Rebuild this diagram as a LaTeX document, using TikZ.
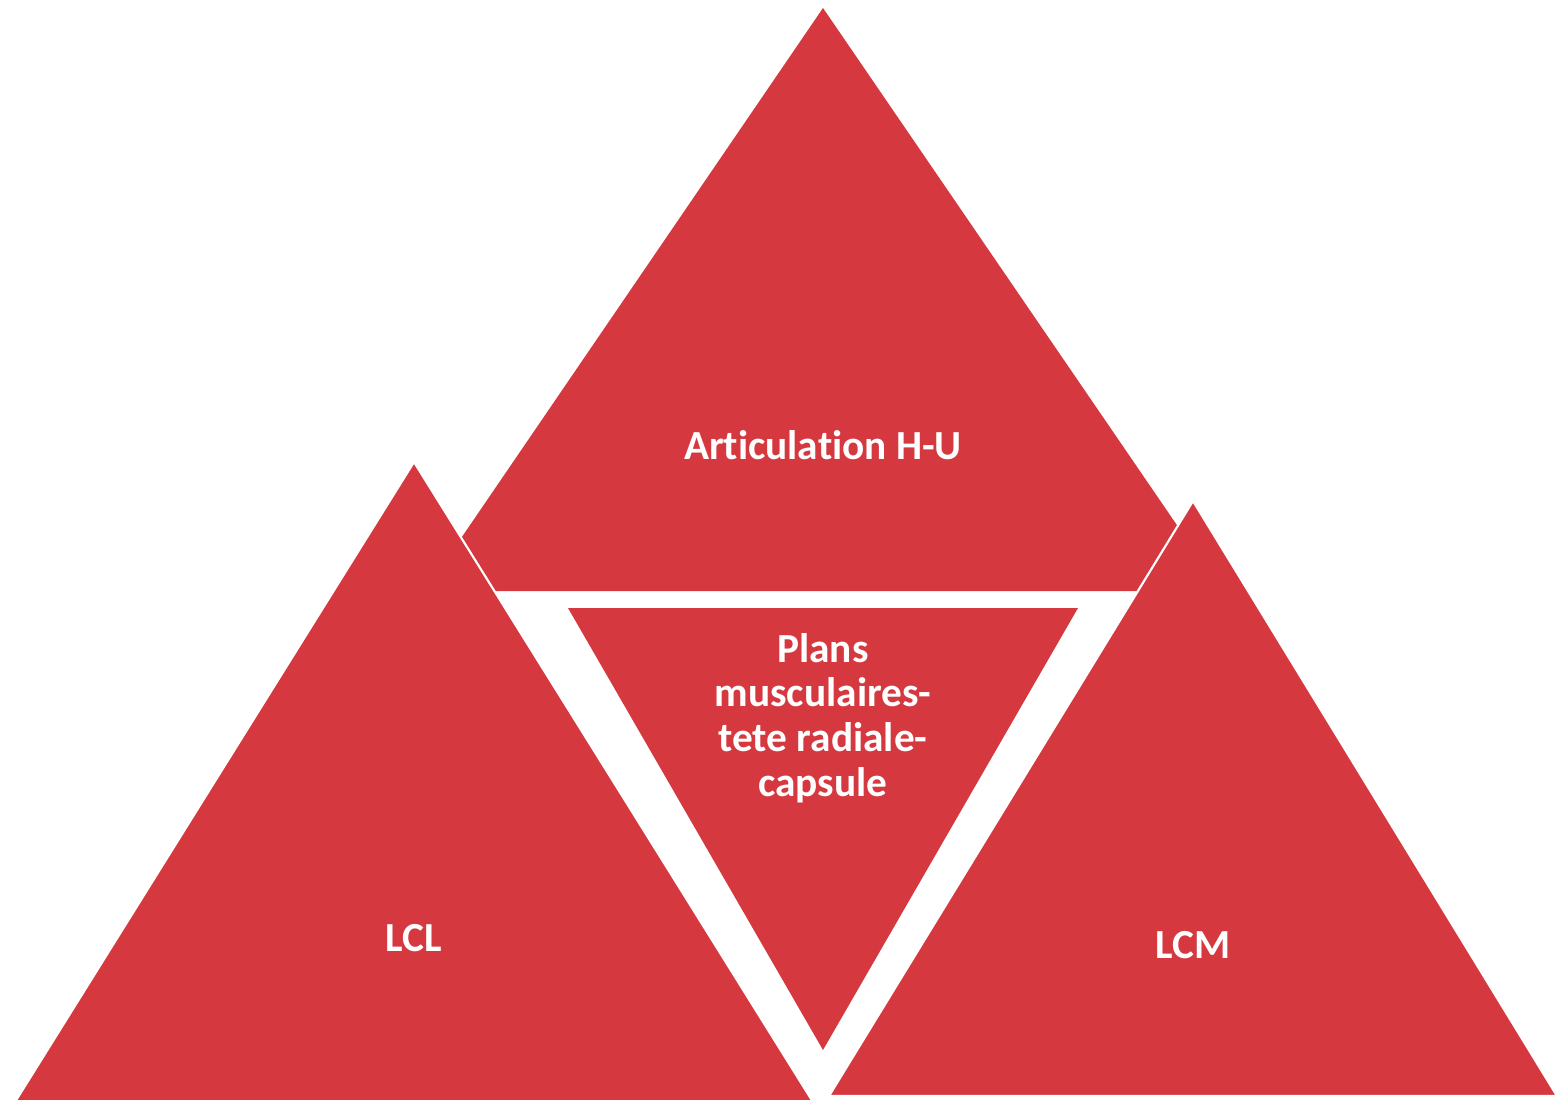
\documentclass[tikz,border=0pt]{standalone}
\usepackage{fontspec}
\setmainfont[Ligatures=NoCommon]{Carlito}
\usepackage{tikz}
\usetikzlibrary{
  positioning,  % Function "of" (e.g. [right=of x])
  calc,         % Calculations $...$
}
\definecolor{tri red}{RGB}{213,57,63}
\tikzset{
  font=\bfseries\fontsize{31}{33.5}\selectfont,
  tri/.style={
    fill=tri red
  },
  tri front/.style={
    tri,
    draw=white,
    line width=1.6pt,
    line join=miter
  },
  tri text/.style={
    text=white,
    align=center,
    inner sep=0mm
  }
}

\begin{document}
\begin{tikzpicture}[x=0.75pt,y=-0.75pt]
\useasboundingbox (0,0) rectangle (1561,1100);
% corners of the triangles
\coordinate (hu top)   at (823,8);
\coordinate (hu left)  at (425,591);
\coordinate (hu right) at (1222,591);
\coordinate (pm left)  at (568,608);
\coordinate (pm right) at (1078,608);
\coordinate (pm low)   at (823,1050);
\coordinate (lcl top)   at (414,462);
\coordinate (lcl left)  at (15,1102);
\coordinate (lcl right) at (813,1102);
\coordinate (lcm top)   at (1193,501);
\coordinate (lcm left)  at (829,1096);
\coordinate (lcm right) at (1557,1096);
\fill[tri] (hu top) -- (hu left) -- (hu right) -- cycle;
\fill[tri] (pm left) -- (pm right) -- (pm low) -- cycle;
\filldraw[tri front] (lcl top) -- (lcl left) -- (lcl right) -- cycle;
\filldraw[tri front] (lcm top) -- (lcm left) -- (lcm right) -- cycle;
% labels
\node[tri text] (hu)  at (823,445) {Articulation H-U};
\node[tri text] (pm)  at (823,718) {Plans\\musculaires-\\tete radiale-\\capsule};
\node[tri text] (lcl) at (414,938) {LCL};
\node[tri text] (lcm) at (1193,945) {LCM};
\end{tikzpicture}
\end{document}
